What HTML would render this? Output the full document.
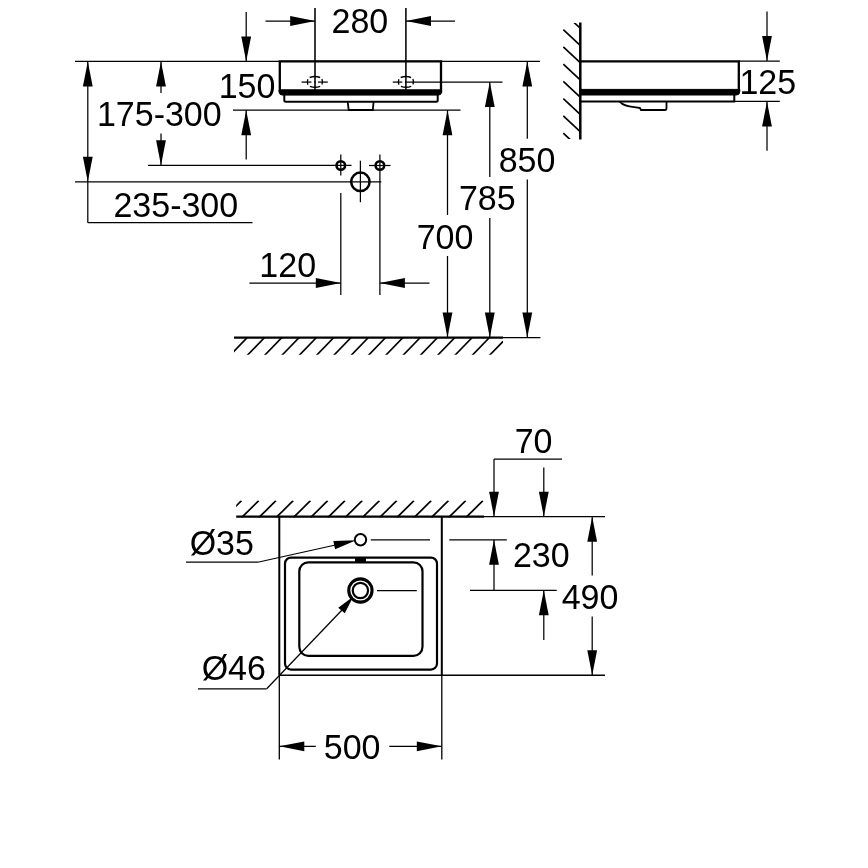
<!DOCTYPE html>
<html><head><meta charset="utf-8"><title>Dimension drawing</title>
<style>
html,body{margin:0;padding:0;background:#fff;}
body{width:868px;height:868px;overflow:hidden;}
svg{display:block;}
svg line,svg path,svg circle,svg ellipse,svg rect{stroke:#000;}
svg text{font-family:"Liberation Sans",sans-serif;fill:#000;stroke:none;}
svg{will-change:transform;filter:grayscale(1);}
</style></head><body>
<svg width="868" height="868" viewBox="0 0 868 868">
<defs>
<clipPath id="floorclip"><rect x="234" y="337" width="269" height="17.8"/></clipPath>
<clipPath id="wallclip"><rect x="563" y="23" width="18" height="116"/></clipPath>
<clipPath id="wall2clip"><rect x="236.2" y="500.5" width="247.5" height="17"/></clipPath>
</defs>
<rect x="0" y="0" width="868" height="868" fill="#fff" stroke="none" style="stroke:none"/>
<line x1="75" y1="61.4" x2="540" y2="61.4" stroke-width="1.25" />
<line x1="233" y1="110.2" x2="460.5" y2="110.2" stroke-width="1.25" />
<line x1="404.9" y1="82.1" x2="502.5" y2="82.1" stroke-width="1.25" />
<line x1="148" y1="165.3" x2="351.5" y2="165.3" stroke-width="1.25" />
<line x1="75" y1="181.8" x2="381.3" y2="181.8" stroke-width="1.25" />
<line x1="87.8" y1="61.4" x2="87.8" y2="222.7" stroke-width="1.25" />
<line x1="87.8" y1="222.7" x2="252.5" y2="222.7" stroke-width="1.25" />
<polygon points="87.80,61.40 92.70,86.40 82.90,86.40" fill="#000" stroke="none"/>
<polygon points="87.80,181.80 82.90,156.80 92.70,156.80" fill="#000" stroke="none"/>
<line x1="161" y1="61.4" x2="161" y2="93" stroke-width="1.25" />
<line x1="161" y1="133.5" x2="161" y2="165.3" stroke-width="1.25" />
<polygon points="161.00,61.40 165.90,86.40 156.10,86.40" fill="#000" stroke="none"/>
<polygon points="161.00,165.30 156.10,140.30 165.90,140.30" fill="#000" stroke="none"/>
<line x1="246.2" y1="12" x2="246.2" y2="61.4" stroke-width="1.25" />
<polygon points="246.20,61.40 241.30,36.40 251.10,36.40" fill="#000" stroke="none"/>
<line x1="246.2" y1="110.2" x2="246.2" y2="159.5" stroke-width="1.25" />
<polygon points="246.20,110.20 251.10,135.20 241.30,135.20" fill="#000" stroke="none"/>
<line x1="315" y1="8" x2="315" y2="90" stroke-width="1.55" />
<line x1="405.9" y1="8" x2="405.9" y2="90" stroke-width="1.55" />
<line x1="265.5" y1="21" x2="315" y2="21" stroke-width="1.25" />
<polygon points="315.20,21.00 290.20,25.90 290.20,16.10" fill="#000" stroke="none"/>
<line x1="406" y1="21" x2="455" y2="21" stroke-width="1.25" />
<polygon points="406.00,21.00 431.00,16.10 431.00,25.90" fill="#000" stroke="none"/>
<path d="M279.8,61.4 H441 V91.5 H279.8 Z" fill="none" stroke-width="2.3"/>
<path d="M279.2,89.8 H441.6 V91.8 Q441.6,95.1 438.4,95.1 H282.4 Q279.2,95.1 279.2,91.8 Z" fill="#000" stroke="none"/>
<path d="M284.3,94 V100.3 Q284.3,101.8 285.8,101.8 H436.2 Q437.7,101.8 437.7,100.3 V94" fill="none" stroke-width="2"/>
<path d="M347.7,102 L348.7,110 H372.8 L373.6,102" fill="none" stroke-width="1.8"/>
<path d="M309.7,77.5 Q314.9,75.6 320.1,77.5" fill="none" stroke-width="1.35"/>
<path d="M309.9,86.3 Q315.0,88.2 320.2,86.3" fill="none" stroke-width="1.35"/>
<path d="M307.9,79.2 Q306.7,82.0 307.9,84.8" fill="none" stroke-width="1.35"/>
<path d="M321.9,79.0 Q323.1,81.8 321.9,84.6" fill="none" stroke-width="1.35"/>
<path d="M400.7,77.5 Q405.9,75.6 411.1,77.5" fill="none" stroke-width="1.35"/>
<path d="M400.9,86.3 Q406.0,88.2 411.2,86.3" fill="none" stroke-width="1.35"/>
<path d="M398.9,79.2 Q397.7,82.0 398.9,84.8" fill="none" stroke-width="1.35"/>
<path d="M412.9,79.0 Q414.1,81.8 412.9,84.6" fill="none" stroke-width="1.35"/>
<line x1="301.6" y1="82.1" x2="311.4" y2="82.1" stroke-width="1.25" />
<line x1="314.2" y1="82.1" x2="315.6" y2="82.1" stroke-width="1.25" />
<line x1="318" y1="82.1" x2="327.8" y2="82.1" stroke-width="1.25" />
<line x1="392.8" y1="82.1" x2="402.3" y2="82.1" stroke-width="1.25" />
<circle cx="340.8" cy="165.5" r="4.3" fill="none" stroke-width="2.5"/>
<circle cx="379.9" cy="165.5" r="4.3" fill="none" stroke-width="2.5"/>
<line x1="340.8" y1="154.6" x2="340.8" y2="175.6" stroke-width="1.25" />
<line x1="369" y1="165.5" x2="390.5" y2="165.5" stroke-width="1.25" />
<line x1="379.9" y1="154.6" x2="379.9" y2="295" stroke-width="1.25" />
<line x1="340.8" y1="193" x2="340.8" y2="295" stroke-width="1.25" />
<circle cx="360.4" cy="181.8" r="9.2" fill="none" stroke-width="2.5"/>
<line x1="360.4" y1="160.7" x2="360.4" y2="202.2" stroke-width="1.25" />
<line x1="249.4" y1="283" x2="341" y2="283" stroke-width="1.25" />
<polygon points="340.80,283.00 315.80,287.90 315.80,278.10" fill="#000" stroke="none"/>
<line x1="379.9" y1="283" x2="429.5" y2="283" stroke-width="1.25" />
<polygon points="379.90,283.00 404.90,278.10 404.90,287.90" fill="#000" stroke="none"/>
<line x1="447.5" y1="110.2" x2="447.5" y2="215" stroke-width="1.25" />
<line x1="447.5" y1="256" x2="447.5" y2="337.5" stroke-width="1.25" />
<polygon points="447.50,110.20 452.40,135.20 442.60,135.20" fill="#000" stroke="none"/>
<polygon points="447.50,337.50 442.60,312.50 452.40,312.50" fill="#000" stroke="none"/>
<line x1="489.8" y1="82" x2="489.8" y2="177" stroke-width="1.25" />
<line x1="489.8" y1="218" x2="489.8" y2="337.5" stroke-width="1.25" />
<polygon points="489.80,82.00 494.70,107.00 484.90,107.00" fill="#000" stroke="none"/>
<polygon points="489.80,337.50 484.90,312.50 494.70,312.50" fill="#000" stroke="none"/>
<line x1="527.3" y1="61.4" x2="527.3" y2="138.8" stroke-width="1.25" />
<line x1="527.3" y1="179.5" x2="527.3" y2="337.5" stroke-width="1.25" />
<polygon points="527.30,61.40 532.20,86.40 522.40,86.40" fill="#000" stroke="none"/>
<polygon points="527.30,337.50 522.40,312.50 532.20,312.50" fill="#000" stroke="none"/>
<line x1="234" y1="337.7" x2="503" y2="337.7" stroke-width="2.3" />
<line x1="503" y1="337.7" x2="540.4" y2="337.7" stroke-width="1.25" />
<g clip-path="url(#floorclip)">
<line x1="248.3" y1="336.5" x2="229.8" y2="355.5" stroke-width="1.7" />
<line x1="265.6" y1="336.5" x2="247.10000000000002" y2="355.5" stroke-width="1.7" />
<line x1="282.90000000000003" y1="336.5" x2="264.40000000000003" y2="355.5" stroke-width="1.7" />
<line x1="300.20000000000005" y1="336.5" x2="281.70000000000005" y2="355.5" stroke-width="1.7" />
<line x1="317.50000000000006" y1="336.5" x2="299.00000000000006" y2="355.5" stroke-width="1.7" />
<line x1="334.80000000000007" y1="336.5" x2="316.30000000000007" y2="355.5" stroke-width="1.7" />
<line x1="352.1000000000001" y1="336.5" x2="333.6000000000001" y2="355.5" stroke-width="1.7" />
<line x1="369.4000000000001" y1="336.5" x2="350.9000000000001" y2="355.5" stroke-width="1.7" />
<line x1="386.7000000000001" y1="336.5" x2="368.2000000000001" y2="355.5" stroke-width="1.7" />
<line x1="404.0000000000001" y1="336.5" x2="385.5000000000001" y2="355.5" stroke-width="1.7" />
<line x1="421.3000000000001" y1="336.5" x2="402.8000000000001" y2="355.5" stroke-width="1.7" />
<line x1="438.60000000000014" y1="336.5" x2="420.10000000000014" y2="355.5" stroke-width="1.7" />
<line x1="455.90000000000015" y1="336.5" x2="437.40000000000015" y2="355.5" stroke-width="1.7" />
<line x1="473.20000000000016" y1="336.5" x2="454.70000000000016" y2="355.5" stroke-width="1.7" />
<line x1="490.50000000000017" y1="336.5" x2="472.00000000000017" y2="355.5" stroke-width="1.7" />
<line x1="507.8000000000002" y1="336.5" x2="489.3000000000002" y2="355.5" stroke-width="1.7" />
</g>
<line x1="580.3" y1="22.5" x2="580.3" y2="139.5" stroke-width="2.5" />
<g clip-path="url(#wallclip)">
<line x1="581" y1="11.700000000000003" x2="563.3" y2="-4.799999999999997" stroke-width="1.7" />
<line x1="581" y1="28.950000000000003" x2="563.3" y2="12.450000000000003" stroke-width="1.7" />
<line x1="581" y1="46.2" x2="563.3" y2="29.700000000000003" stroke-width="1.7" />
<line x1="581" y1="63.45" x2="563.3" y2="46.95" stroke-width="1.7" />
<line x1="581" y1="80.7" x2="563.3" y2="64.2" stroke-width="1.7" />
<line x1="581" y1="97.95" x2="563.3" y2="81.45" stroke-width="1.7" />
<line x1="581" y1="115.2" x2="563.3" y2="98.7" stroke-width="1.7" />
<line x1="581" y1="132.45" x2="563.3" y2="115.94999999999999" stroke-width="1.7" />
<line x1="581" y1="149.7" x2="563.3" y2="133.2" stroke-width="1.7" />
</g>
<path d="M580.3,61.4 H738.8 V91" fill="none" stroke-width="2.3"/>
<path d="M580.3,89.4 H739.8 V91.6 Q739.8,95 736.4,95 H580.3 Z" fill="#000" stroke="none"/>
<path d="M580.3,101.5 H734.3 V94" fill="none" stroke-width="2"/>
<path d="M619.5,101.5 C624,107 632,106.5 640,108 L641,110 H665 Q666.5,110 666.5,108 V101.5" fill="none" stroke-width="1.8"/>
<line x1="738.8" y1="61.0" x2="779.8" y2="61.0" stroke-width="1.25" />
<line x1="734" y1="101.4" x2="779.8" y2="101.4" stroke-width="1.25" />
<line x1="767" y1="11.4" x2="767" y2="60.9" stroke-width="1.25" />
<polygon points="767.00,60.90 762.10,35.90 771.90,35.90" fill="#000" stroke="none"/>
<line x1="767" y1="101.4" x2="767" y2="150.8" stroke-width="1.25" />
<polygon points="767.00,101.40 771.90,126.40 762.10,126.40" fill="#000" stroke="none"/>
<line x1="236.2" y1="516.7" x2="484" y2="516.7" stroke-width="2.3" />
<line x1="484" y1="516.7" x2="605" y2="516.7" stroke-width="1.25" />
<g clip-path="url(#wall2clip)">
<line x1="224.25" y1="517.7" x2="241.45" y2="500.70000000000005" stroke-width="1.7" />
<line x1="241.5" y1="517.7" x2="258.7" y2="500.70000000000005" stroke-width="1.7" />
<line x1="258.75" y1="517.7" x2="275.95" y2="500.70000000000005" stroke-width="1.7" />
<line x1="276.0" y1="517.7" x2="293.2" y2="500.70000000000005" stroke-width="1.7" />
<line x1="293.25" y1="517.7" x2="310.45" y2="500.70000000000005" stroke-width="1.7" />
<line x1="310.5" y1="517.7" x2="327.7" y2="500.70000000000005" stroke-width="1.7" />
<line x1="327.75" y1="517.7" x2="344.95" y2="500.70000000000005" stroke-width="1.7" />
<line x1="345.0" y1="517.7" x2="362.2" y2="500.70000000000005" stroke-width="1.7" />
<line x1="362.25" y1="517.7" x2="379.45" y2="500.70000000000005" stroke-width="1.7" />
<line x1="379.5" y1="517.7" x2="396.7" y2="500.70000000000005" stroke-width="1.7" />
<line x1="396.75" y1="517.7" x2="413.95" y2="500.70000000000005" stroke-width="1.7" />
<line x1="414.0" y1="517.7" x2="431.2" y2="500.70000000000005" stroke-width="1.7" />
<line x1="431.25" y1="517.7" x2="448.45" y2="500.70000000000005" stroke-width="1.7" />
<line x1="448.5" y1="517.7" x2="465.7" y2="500.70000000000005" stroke-width="1.7" />
<line x1="465.75" y1="517.7" x2="482.95" y2="500.70000000000005" stroke-width="1.7" />
</g>
<line x1="279.3" y1="516.7" x2="279.3" y2="675.2" stroke-width="2.0" />
<line x1="279.3" y1="675.2" x2="279.3" y2="759.5" stroke-width="1.3" />
<line x1="441.8" y1="516.7" x2="441.8" y2="675.2" stroke-width="2.0" />
<line x1="441.8" y1="675.2" x2="441.8" y2="759.5" stroke-width="1.3" />
<line x1="279.3" y1="675.2" x2="605" y2="675.2" stroke-width="1.5" />
<rect x="285" y="557.6" width="152" height="112" rx="6" ry="6" fill="none" stroke-width="2.2"/>
<rect x="299.3" y="562.3" width="123.2" height="93.5" rx="9" ry="9" fill="none" stroke-width="2.2"/>
<rect x="355.5" y="557.6" width="10" height="4.7" fill="#000" stroke="none"/>
<circle cx="360.5" cy="539.8" r="5.7" fill="none" stroke-width="2"/>
<line x1="370.8" y1="539.8" x2="430" y2="539.8" stroke-width="1.25" />
<line x1="449.3" y1="539.8" x2="506.8" y2="539.8" stroke-width="1.25" />
<circle cx="360.4" cy="590.5" r="11.65" fill="none" stroke-width="3.1"/>
<circle cx="360.4" cy="590.5" r="7.65" fill="none" stroke-width="2.2"/>
<line x1="377" y1="590.5" x2="416.8" y2="590.5" stroke-width="1.25" />
<line x1="470" y1="590.3" x2="556.7" y2="590.3" stroke-width="1.25" />
<line x1="186" y1="562" x2="258.8" y2="562" stroke-width="1.25" />
<line x1="258.8" y1="562" x2="340" y2="544" stroke-width="1.25" />
<polygon points="356.20,540.30 335.12,549.22 333.32,541.02" fill="#000" stroke="none"/>
<line x1="198" y1="688.8" x2="266.7" y2="688.8" stroke-width="1.25" />
<line x1="266.7" y1="688.8" x2="342" y2="610" stroke-width="1.25" />
<polygon points="353.40,596.60 344.77,613.30 338.23,607.70" fill="#000" stroke="none"/>
<line x1="494" y1="459" x2="562" y2="459" stroke-width="1.25" />
<line x1="494" y1="459" x2="494" y2="516.7" stroke-width="1.25" />
<polygon points="494.00,516.70 489.10,491.70 498.90,491.70" fill="#000" stroke="none"/>
<line x1="543.8" y1="467.5" x2="543.8" y2="516.7" stroke-width="1.25" />
<polygon points="543.80,516.70 538.90,491.70 548.70,491.70" fill="#000" stroke="none"/>
<line x1="494" y1="539.8" x2="494" y2="590.3" stroke-width="1.25" />
<polygon points="494.00,539.80 498.90,564.80 489.10,564.80" fill="#000" stroke="none"/>
<line x1="543.8" y1="590.3" x2="543.8" y2="640" stroke-width="1.25" />
<polygon points="543.80,590.30 548.70,615.30 538.90,615.30" fill="#000" stroke="none"/>
<line x1="592.2" y1="516.7" x2="592.2" y2="575.6" stroke-width="1.25" />
<line x1="592.2" y1="616.5" x2="592.2" y2="675.2" stroke-width="1.25" />
<polygon points="592.20,516.70 597.10,541.70 587.30,541.70" fill="#000" stroke="none"/>
<polygon points="592.20,675.20 587.30,650.20 597.10,650.20" fill="#000" stroke="none"/>
<line x1="279.3" y1="746.3" x2="315.8" y2="746.3" stroke-width="1.25" />
<polygon points="279.30,746.30 304.30,741.40 304.30,751.20" fill="#000" stroke="none"/>
<line x1="389.3" y1="746.3" x2="441.8" y2="746.3" stroke-width="1.25" />
<polygon points="441.80,746.30 416.80,751.20 416.80,741.40" fill="#000" stroke="none"/>
<text transform="translate(359.9,33.40) scale(1,1.04)" font-size="34.0" text-anchor="middle">280</text>
<text transform="translate(247,97.90) scale(1,1.04)" font-size="34.0" text-anchor="middle">150</text>
<text transform="translate(159.3,126.40) scale(1,1.04)" font-size="34.0" text-anchor="middle">175-300</text>
<text transform="translate(175.8,216.90) scale(1,1.04)" font-size="34.0" text-anchor="middle">235-300</text>
<text transform="translate(527,172.20) scale(1,1.04)" font-size="34.0" text-anchor="middle">850</text>
<text transform="translate(487.3,209.90) scale(1,1.04)" font-size="34.0" text-anchor="middle">785</text>
<text transform="translate(445,249.10) scale(1,1.04)" font-size="34.0" text-anchor="middle">700</text>
<text transform="translate(767.8,94.00) scale(1,1.04)" font-size="34.0" text-anchor="middle">125</text>
<text transform="translate(287.7,277.40) scale(1,1.04)" font-size="34.0" text-anchor="middle">120</text>
<text transform="translate(533.6,452.70) scale(1,1.04)" font-size="34.0" text-anchor="middle">70</text>
<text transform="translate(221.8,554.80) scale(1,1.04)" font-size="34.0" text-anchor="middle">Ø35</text>
<text transform="translate(541.3,566.70) scale(1,1.04)" font-size="34.0" text-anchor="middle">230</text>
<text transform="translate(590,608.90) scale(1,1.04)" font-size="34.0" text-anchor="middle">490</text>
<text transform="translate(233.8,680.40) scale(1,1.04)" font-size="34.0" text-anchor="middle">Ø46</text>
<text transform="translate(352.1,759.20) scale(1,1.04)" font-size="34.0" text-anchor="middle">500</text>
</svg>
</body></html>
